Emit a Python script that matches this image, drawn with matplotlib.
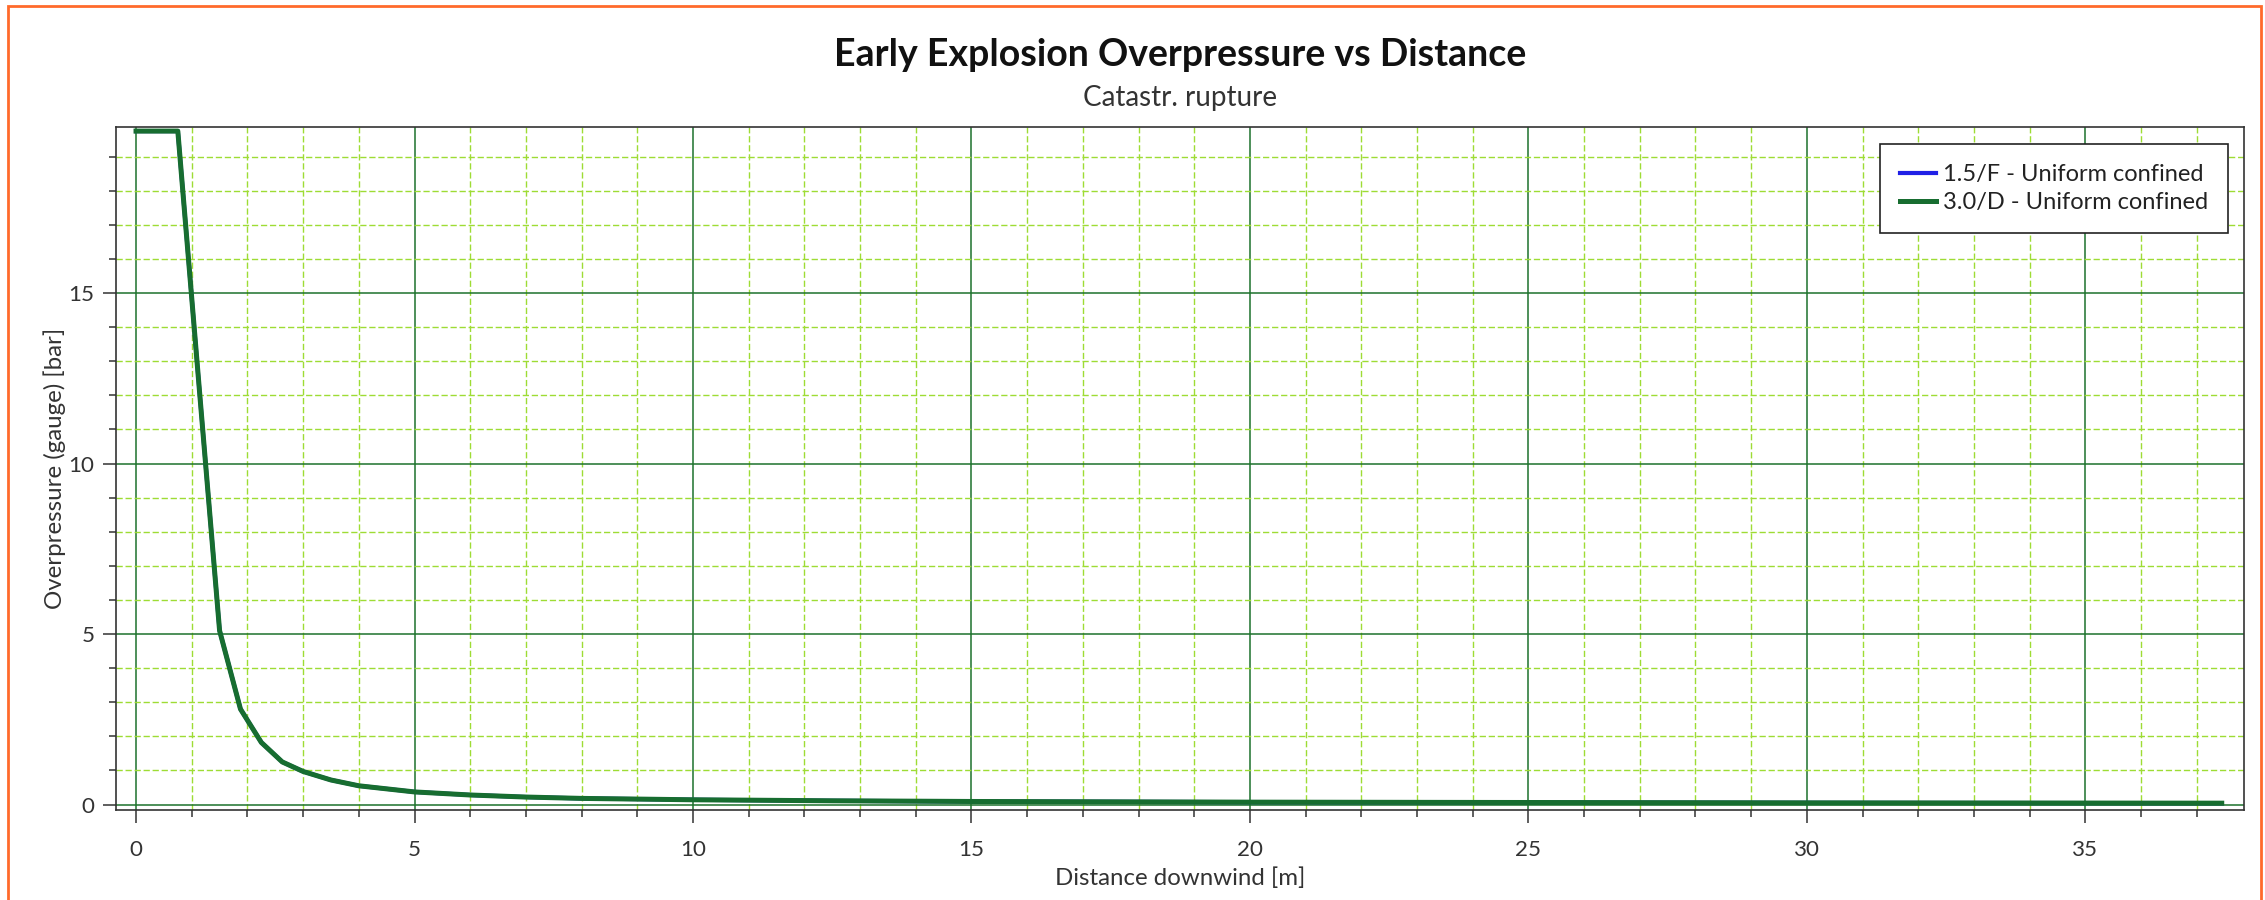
import matplotlib
matplotlib.use('Agg')
import matplotlib.pyplot as plt
from matplotlib.ticker import MultipleLocator
from matplotlib.patches import Rectangle

# overpressure vs distance (both cases overlap)
distance_m = [0.0, 0.375, 0.75, 1.125, 1.5, 1.875, 2.25, 2.625, 3.0, 3.5, 4.0,
              5.0, 6.0, 7.0, 8.0, 10.0, 12.5, 15.0, 20.0, 25.0, 30.0, 37.45]
overpressure_f = [19.75, 19.75, 19.75, 12.4, 5.1, 2.8, 1.82, 1.25, 0.97, 0.72, 0.55,
                  0.37, 0.28, 0.22, 0.18, 0.14, 0.11, 0.09, 0.07, 0.06, 0.05, 0.04]
overpressure_d = [19.75, 19.75, 19.75, 12.4, 5.1, 2.8, 1.82, 1.25, 0.97, 0.72, 0.55,
                  0.37, 0.28, 0.22, 0.18, 0.14, 0.11, 0.09, 0.07, 0.06, 0.05, 0.04]
series_labels = ['1.5/F - Uniform confined', '3.0/D - Uniform confined']
title = 'Early Explosion Overpressure vs Distance'
subtitle = 'Catastr. rupture'
x_label = 'Distance downwind [m]'
y_label = 'Overpressure (gauge) [bar]'

W, H = 2265, 900
plt.rcParams['font.family'] = ['Lato', 'DejaVu Sans']

fig = plt.figure(figsize=(W / 100, H / 100), dpi=100)
fig.patch.set_facecolor('white')
renderer = fig.canvas.get_renderer()


def size_for(text, width_px, weight='normal'):
    # font size that makes the text about as wide as in the reference
    t = fig.text(0, 0, text, fontsize=20, fontweight=weight)
    w = t.get_window_extent(renderer).width
    t.remove()
    return 20 * width_px / w


title_fs = size_for(title, 694, 'bold')
sub_fs = size_for(subtitle, 194)
label_fs = (size_for(x_label, 254) + size_for(y_label, 276)) / 2
tick_fs = size_for('15', 26)
legend_fs = size_for(series_labels[1], 266)

# orange frame around the whole picture
fig.patches.append(Rectangle((8 / W, -0.05), (2261 - 8) / W, 1.05 - 6 / H,
                             transform=fig.transFigure, fill=False,
                             edgecolor='#ff6a2b', linewidth=2.0))

left, right, top, bottom = 116, 2244, 127, 810
ax = fig.add_axes([left / W, 1 - bottom / H, (right - left) / W, (bottom - top) / H])

ax.plot(distance_m, overpressure_f, color='#2020e6', lw=3.0, label=series_labels[0], zorder=3)
ax.plot(distance_m, overpressure_d, color='#176d30', lw=3.6, label=series_labels[1], zorder=4)

ax.set_xlim(-0.36, 37.85)
ax.set_ylim(-0.16, 19.87)
ax.xaxis.set_major_locator(MultipleLocator(5))
ax.xaxis.set_minor_locator(MultipleLocator(1))
ax.yaxis.set_major_locator(MultipleLocator(5))
ax.yaxis.set_minor_locator(MultipleLocator(1))

ax.grid(which='major', color='#1d722c', lw=1.1, ls='-', zorder=1)
ax.grid(which='minor', color='#9edc34', lw=1.0, ls=(0, (4.5, 2)), zorder=0)
ax.set_axisbelow(True)

for s in ax.spines.values():
    s.set_color('#333333')
    s.set_linewidth(1.2)

ax.tick_params(which='major', length=9.5, width=1.1, color='#333333',
               labelsize=tick_fs, labelcolor='#333333')
ax.tick_params(which='minor', length=5, width=1.1, color='#333333')
ax.tick_params(axis='x', which='major', pad=12)
ax.tick_params(axis='y', which='major', pad=6)

ax.set_xlabel(x_label, fontsize=label_fs, color='#333333')
ax.set_ylabel(y_label, fontsize=label_fs, color='#333333')
ax.xaxis.set_label_coords(0.5, -(878 - bottom) / (bottom - top))
ax.xaxis.label.set_va('center')
ax.yaxis.set_label_coords(-(left - 55) / (right - left), 0.5)
ax.yaxis.label.set_va('center')

cx = (left + right) / 2 / W
fig.text(cx, 1 - 55 / H, title, ha='center', va='center',
         fontsize=title_fs, fontweight='bold', color='#111111')
fig.text(cx, 1 - 98 / H, subtitle, ha='center', va='center',
         fontsize=sub_fs, color='#333333')

leg = ax.legend(loc='upper right', bbox_to_anchor=(1 - 16 / (right - left), 1 - 17 / (bottom - top)),
                borderaxespad=0, fontsize=legend_fs, frameon=True, fancybox=False,
                handlelength=1.5, handletextpad=0.3, labelspacing=0.3, borderpad=0.85)
leg.get_frame().set_edgecolor('#222222')
leg.get_frame().set_linewidth(1.2)
leg.get_frame().set_alpha(1)
for t in leg.get_texts():
    t.set_color('#222222')

fig.savefig('out.png', dpi=100)
